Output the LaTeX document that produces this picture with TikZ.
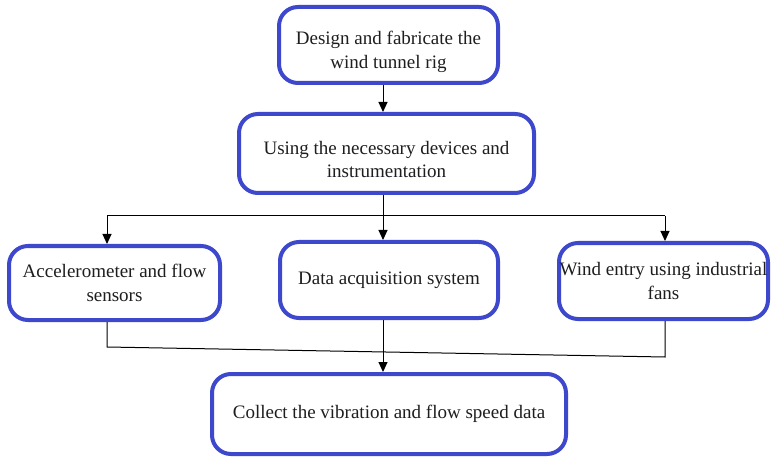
\documentclass[tikz,border=0pt]{standalone}
\usepackage{fontspec}
\setmainfont{Liberation Serif}
\usetikzlibrary{arrows.meta}
\definecolor{boxblue}{RGB}{62,72,204}
\definecolor{ink}{RGB}{30,30,30}
\begin{document}
\begin{tikzpicture}[x=1pt,y=-1pt,
  stepbox/.style={draw=boxblue, line width=4pt, rounded corners=19pt, fill=white,
    inner sep=0pt, align=center, text=ink,
    font=\fontsize{19}{23.5}\selectfont},
  link/.style={draw=black, line width=1pt},
  arr/.style={link, -{Triangle[length=10pt,width=9pt]}}
]
\useasboundingbox[fill=white] (0,0) rectangle (771,457);

% process boxes (the struts lower the two-line captions a little)
\node[stepbox, minimum width=219pt, minimum height=76pt] (n1) at (388.5,45)
  {\rule{0pt}{27pt}Design and fabricate the\\wind tunnel rig};
\node[stepbox, minimum width=295pt, minimum height=79pt] (n2) at (386.5,153.5)
  {\rule{0pt}{25pt}Using the necessary devices and\\instrumentation};
\node[stepbox, minimum width=211pt, minimum height=74pt] (n3) at (114.5,283)
  {Accelerometer and flow\\sensors};
\node[stepbox, minimum width=218pt, minimum height=76pt] (n4) at (389,280)
  {Data acquisition system};
\node[stepbox, minimum width=209pt, minimum height=76pt] (n5) at (663.5,281)
  {Wind entry using industrial\\fans};
\node[stepbox, minimum width=354pt, minimum height=80pt] (n6) at (389,414)
  {Collect the vibration and flow speed data};

% connector routing points
\coordinate (cx) at (383,0);
\coordinate (busT) at (383,216);
\coordinate (busL) at (107,216);
\coordinate (busR) at (665,216);
\coordinate (botL) at (107,347);
\coordinate (botR) at (665,357);

% top chain
\draw[arr] (n1.south -| cx) -- (n2.north -| cx);

% fan-out bus
\draw[link] (n2.south -| cx) -- (busT);
\draw[link] (busL) -- (busR);
\draw[arr] (busL) -- (n3.north -| busL);
\draw[arr] (busT) -- (n4.north -| cx);
\draw[arr] (busR) -- (n5.north -| busR);

% collecting line and final arrow
\draw[link] (n3.south -| botL) -- (botL) -- (botR) -- (n5.south -| botR);
\draw[arr] (n4.south -| cx) -- (n6.north -| cx);
\end{tikzpicture}
\end{document}
